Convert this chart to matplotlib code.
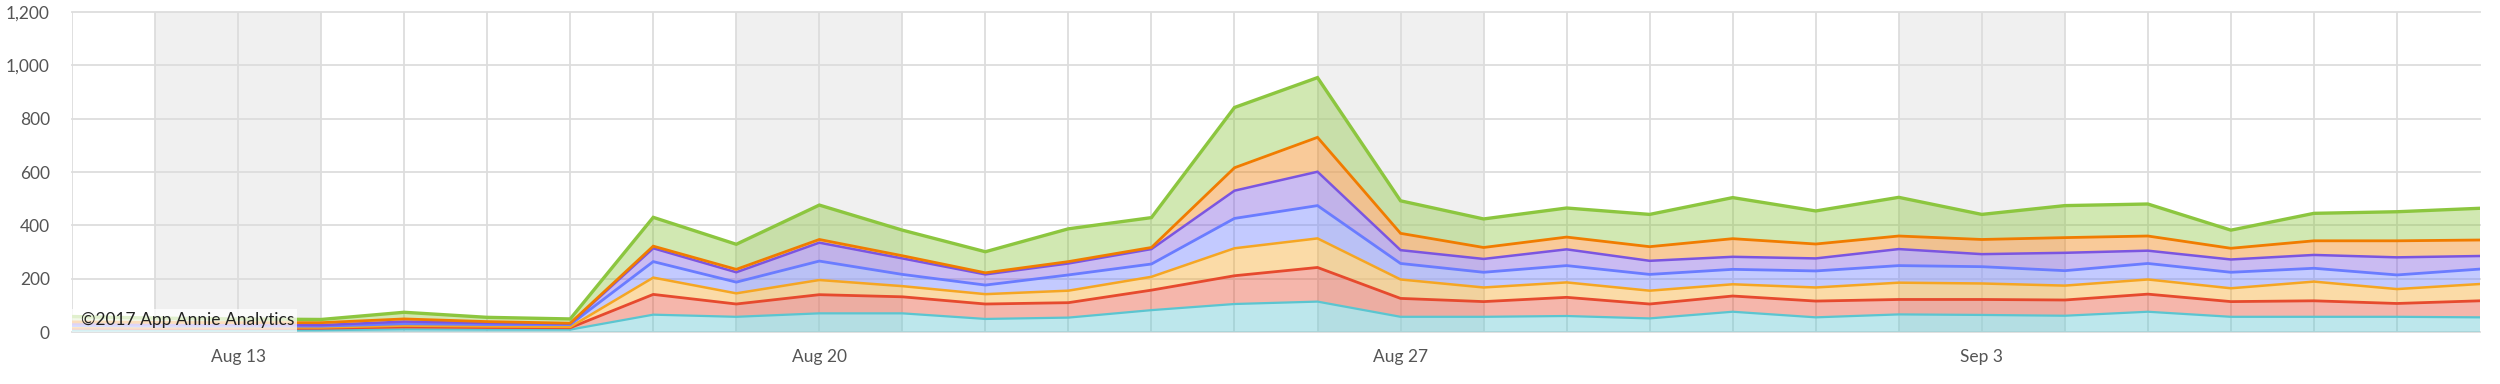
import numpy as np
import matplotlib
matplotlib.use("Agg")
import matplotlib.pyplot as plt
from matplotlib.patches import Rectangle
from matplotlib.ticker import FuncFormatter

plt.rcParams['font.family'] = ['Lato', 'DejaVu Sans']

# daily values, Aug 11 .. Sep 9 2017 (bottom layer first)
days = ["Aug 11", "Aug 12", "Aug 13", "Aug 14", "Aug 15", "Aug 16", "Aug 17", "Aug 18",
        "Aug 19", "Aug 20", "Aug 21", "Aug 22", "Aug 23", "Aug 24", "Aug 25", "Aug 26",
        "Aug 27", "Aug 28", "Aug 29", "Aug 30", "Aug 31", "Sep 1", "Sep 2", "Sep 3",
        "Sep 4", "Sep 5", "Sep 6", "Sep 7", "Sep 8", "Sep 9"]
teal = [6, 6, 6, 7, 10, 9, 9, 65, 57, 70, 70, 49, 54, 82, 105, 114, 57, 57, 60, 51,
        76, 55, 66, 64, 61, 76, 57, 57, 57, 55]
red = [8, 7, 7, 7, 9, 8, 7, 76, 48, 70, 62, 56, 56, 75, 106, 128, 69, 57, 70, 54,
       59, 61, 56, 58, 59, 66, 57, 60, 50, 62]
yellow = [4, 4, 4, 3, 5, 4, 3, 63, 40, 55, 40, 37, 45, 50, 103, 109, 71, 53, 56, 50,
          44, 51, 63, 60, 54, 55, 50, 72, 54, 63]
blue = [6, 5, 5, 5, 7, 7, 9, 60, 42, 71, 44, 34, 59, 48, 112, 123, 60, 57, 63, 61,
        56, 62, 64, 63, 56, 60, 60, 50, 53, 56]
purple = [6, 6, 5, 4, 8, 6, 3, 50, 37, 69, 60, 40, 43, 56, 104, 127, 50, 50, 61, 51,
          47, 47, 62, 47, 67, 48, 48, 50, 66, 49]
orange = [8, 8, 8, 9, 10, 5, 2, 8, 11, 12, 10, 6, 7, 6, 86, 129, 63, 43, 46, 53,
          68, 54, 49, 55, 57, 55, 42, 53, 62, 60]
green = [20, 16, 14, 12, 25, 16, 16, 108, 94, 129, 96, 79, 123, 112, 226, 224, 122, 107, 109, 121,
         154, 124, 145, 94, 120, 120, 68, 103, 109, 119]

series = [teal, red, yellow, blue, purple, orange, green]
colors = ["#5bc5d0", "#e64a2e", "#f5a623", "#6a7cff", "#7b55e0", "#f07c00", "#8cc63f"]
widths = [1.6, 2.0, 1.8, 2.0, 1.8, 2.0, 2.4]

weekends = [("Aug 12", "Aug 14"), ("Aug 19", "Aug 21"), ("Aug 26", "Aug 28"), ("Sep 2", "Sep 4")]
xlabels = ["Aug 13", "Aug 20", "Aug 27", "Sep 3"]
yticks = [0, 200, 400, 600, 800, 1000, 1200]

x = np.arange(len(days))

fig = plt.figure(figsize=(25, 3.84), dpi=100)
ax = fig.add_axes([0.0288, 0.1354, 0.9632, 0.8333])

for a, b in weekends:
    ax.axvspan(days.index(a), days.index(b), color="#f0f0f0", zorder=0, lw=0)

for v in yticks:
    ax.axhline(v, color="#dddddd", lw=1.3, zorder=1, clip_on=False)
for i in x[:-1]:
    ax.axvline(i, color="#dddddd", lw=1.3, zorder=1)

ax.stackplot(x, *series, colors=colors, alpha=0.4, zorder=2, lw=0)
tops = np.cumsum(np.array(series), axis=0)
for top, c, w in zip(tops, colors, widths):
    ax.plot(x, top, color=c, lw=w, zorder=3, solid_joinstyle="miter")

ax.set_xlim(0, len(days) - 1)
ax.set_ylim(0, 1200)
ax.set_yticks(yticks)
ax.yaxis.set_major_formatter(FuncFormatter(lambda v, p: f"{int(v):,}"))
ax.set_xticks([days.index(d) for d in xlabels])
ax.set_xticklabels(xlabels)
ax.tick_params(axis="both", length=0, labelsize=12.5, labelcolor="#555555")
ax.tick_params(axis="y", pad=16)
ax.tick_params(axis="x", pad=12)
for s in ax.spines.values():
    s.set_visible(False)

ax.add_patch(Rectangle((0, 0), 0.0934, 0.072, transform=ax.transAxes,
                       facecolor="white", alpha=0.75, lw=0, zorder=4))
ax.text(0.0037, 0.036, "\u00a92017 App Annie Analytics", transform=ax.transAxes,
        fontsize=12.5, color="#222222", va="center", ha="left", zorder=5)

fig.savefig("out.png", dpi=100)
